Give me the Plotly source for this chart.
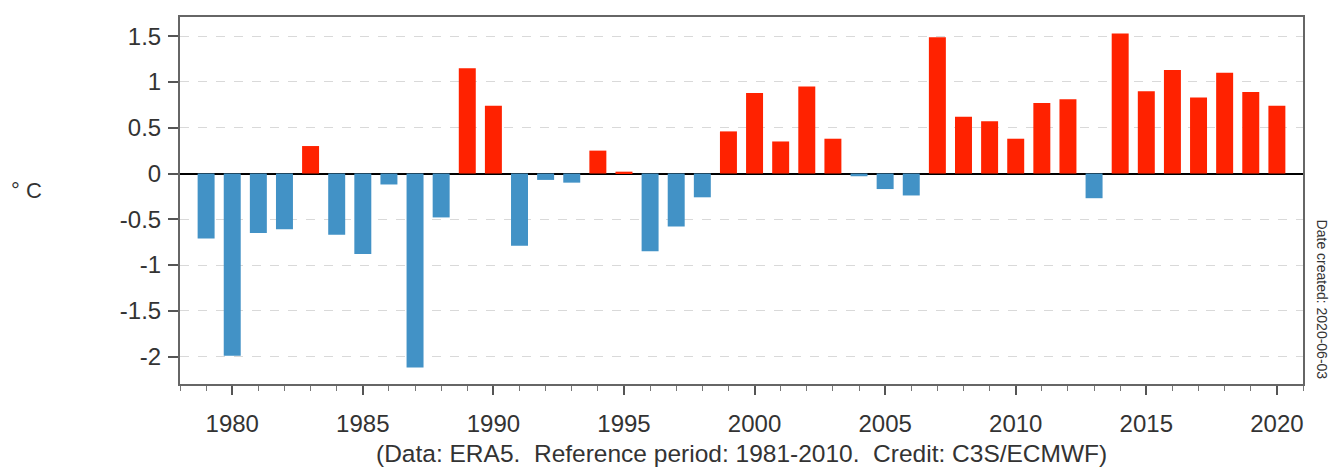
import plotly.graph_objects as go

years = list(range(1979, 2021))
anomalies = [
    -0.71, -1.99, -0.65, -0.61, 0.30, -0.67, -0.88, -0.12, -2.12, -0.48,
    1.15, 0.74, -0.79, -0.07, -0.10, 0.25, 0.02, -0.85, -0.58, -0.26,
    0.46, 0.88, 0.35, 0.95, 0.38, -0.03, -0.17, -0.24, 1.49, 0.62,
    0.57, 0.38, 0.77, 0.81, -0.27, 1.53, 0.90, 1.13, 0.83, 1.10,
    0.89, 0.74,
]
y_tickvals = [-2, -1.5, -1, -0.5, 0, 0.5, 1, 1.5]
y_ticktext = ["-2", "-1.5", "-1", "-0.5", "0", "0.5", "1", "1.5"]

POS_COLOR = "#ff2200"
NEG_COLOR = "#4292c6"
colors = [POS_COLOR if v >= 0 else NEG_COLOR for v in anomalies]

FONT = "Liberation Sans, Arial, sans-serif"
TXT = "#333333"

fig = go.Figure()
fig.add_trace(go.Bar(
    x=years, y=anomalies, width=0.65,
    marker=dict(color=colors, line=dict(width=0)),
    hoverinfo="x+y",
))

fig.update_layout(
    width=1321, height=461,
    margin=dict(l=172, r=26, t=7, b=85),
    paper_bgcolor="white", plot_bgcolor="white",
    showlegend=False,
    font=dict(family=FONT, color=TXT, size=22),
    xaxis=dict(
        range=[1978, 2021],
        tick0=1980, dtick=5,
        ticks="outside", ticklen=9, tickwidth=1.5, tickcolor="#555",
        minor=dict(tick0=1978, dtick=1, ticks="outside", ticklen=5, tickcolor="#777", tickwidth=1),
        showgrid=False, zeroline=False,
        showline=True, linecolor="#666", linewidth=2, mirror=True,
        tickfont=dict(size=24, color=TXT, family=FONT),
        ticklabelstandoff=8,
    ),
    yaxis=dict(
        range=[-2.30, 1.71],
        tickvals=y_tickvals, ticktext=y_ticktext,
        ticks="outside", ticklen=10, tickwidth=1.5, tickcolor="#555",
        showgrid=True, gridcolor="#d9d9d9", griddash="dash", gridwidth=1,
        zeroline=True, zerolinecolor="black", zerolinewidth=2,
        showline=True, linecolor="#666", linewidth=2, mirror=True,
        tickfont=dict(size=24, color=TXT, family=FONT),
        ticklabelstandoff=2,
        layer="above traces",
    ),
    annotations=[
        dict(text="° C", xref="paper", yref="paper", x=-0.137, y=0.526,
             xanchor="center", yanchor="middle",
             showarrow=False, font=dict(size=22, color=TXT, family=FONT)),
        dict(text="(Data: ERA5.  Reference period: 1981-2010.  Credit: C3S/ECMWF)",
             xref="paper", yref="paper", x=0.5, y=-0.19, xanchor="center", yanchor="middle",
             showarrow=False, font=dict(size=24.5, color=TXT, family=FONT)),
        dict(text="Date created: 2020-06-03", textangle=90,
             xref="paper", yref="paper", x=1.0, y=0.23, xanchor="center", yanchor="middle",
             xshift=19, showarrow=False, font=dict(size=14, color=TXT, family=FONT)),
    ],
)

fig.write_html("out.html")
